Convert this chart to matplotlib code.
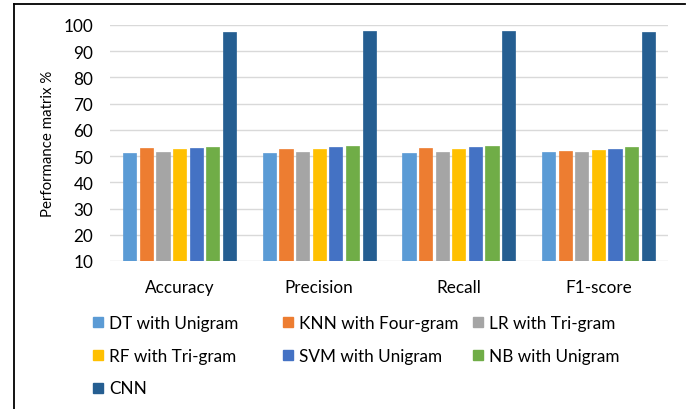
import numpy as np
import matplotlib.pyplot as plt
from matplotlib.lines import Line2D

plt.rcParams['font.family'] = ['Lato', 'DejaVu Sans']

metrics = ["Accuracy", "Precision", "Recall", "F1-score"]
models = ["DT with Unigram", "KNN with Four-gram", "LR with Tri-gram",
          "RF with Tri-gram", "SVM with Unigram", "NB with Unigram", "CNN"]
colors = ["#5B9BD5", "#ED7D31", "#A5A5A5", "#FFC000", "#4472C4", "#70AD47", "#255E91"]

dt = [51.0, 51.0, 51.0, 51.4]
knn = [52.9, 52.5, 52.9, 52.0]
lr = [51.5, 51.5, 51.5, 51.4]
rf = [52.8, 52.8, 52.5, 52.3]
svm = [52.9, 53.5, 53.5, 52.5]
nb = [53.4, 54.0, 54.0, 53.5]
cnn = [97.2, 97.6, 97.7, 97.2]
values = [dt, knn, lr, rf, svm, nb, cnn]

fs = 12.3

fig = plt.figure(figsize=(6.91, 4.10), dpi=100)
ax = fig.add_axes([0.159, 0.361, 0.808, 0.576])

x = np.arange(len(metrics))
step = 0.119
width = 0.094
for i, (vals, c) in enumerate(zip(values, colors)):
    ax.bar(x + (i - 3) * step, np.array(vals) - 10, width, bottom=10, color=c,
           zorder=3, edgecolor=c, linewidth=0.5)

ax.set_xlim(-0.5, 3.5)
ax.set_ylim(10, 100)
ax.set_yticks(range(10, 101, 10))
ax.yaxis.grid(True, color="#D9D9D9", linewidth=1.0, zorder=0)
for s in ax.spines.values():
    s.set_visible(False)
ax.tick_params(axis="both", length=0, labelsize=fs, colors="#000000")
ax.tick_params(axis="y", pad=12)
ax.tick_params(axis="x", pad=13)
ax.set_xticks(x)
ax.set_xticklabels(metrics)
ax.set_ylabel("Performance matrix %", fontsize=10.8)
ax.yaxis.set_label_coords(-0.099, 0.5)

# legend: three fixed-width columns, like the original
handles = [Line2D([], [], marker="s", linestyle="", markersize=7.2, color=c) for c in colors]
columns = [[0, 3, 6], [1, 4], [2, 5]]
col_x = [92, 282, 472]
for idx, cx in zip(columns, col_x):
    leg = fig.legend([handles[i] for i in idx], [models[i] for i in idx],
                     loc="upper left", bbox_to_anchor=(cx / 691, 1 - 316 / 410),
                     frameon=False, fontsize=fs, handletextpad=0.3,
                     labelspacing=0.98, handlelength=0.7, borderpad=0,
                     borderaxespad=0)

# cropped frame: left and top lines
fig.add_artist(Line2D([0.02, 0.02], [0, 0.988], color="black", linewidth=1.3,
                      transform=fig.transFigure))
fig.add_artist(Line2D([0.02, 0.992], [0.988, 0.988], color="black", linewidth=1.3,
                      transform=fig.transFigure))

fig.savefig("out.png", dpi=100)
